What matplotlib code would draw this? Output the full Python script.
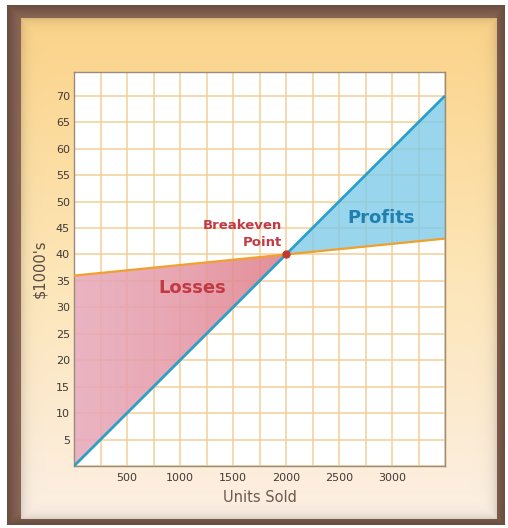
import numpy as np
import matplotlib
matplotlib.use("Agg")
import matplotlib.pyplot as plt
from matplotlib.colors import to_rgb, LinearSegmentedColormap
from matplotlib.patches import Polygon

# Break-even data ($1000's against units sold)
units = [0, 2000, 3500]
revenue = [0, 40, 70]
total_cost = [36, 40, 43]
breakeven_units = 2000
breakeven_value = 40

x_ticks = [500, 1000, 1500, 2000, 2500, 3000]
y_ticks = [5, 10, 15, 20, 25, 30, 35, 40, 45, 50, 55, 60, 65, 70]

W, H = 508, 528
fig = plt.figure(figsize=(W / 100, H / 100), dpi=100)

# ---- framed, shaded backdrop ----
img = np.ones((H, W, 3))
yy, xx = np.mgrid[0:H, 0:W]

# brown frame
fx0, fy0, fx1, fy1 = 7, 5, 505, 525
frame = (xx >= fx0) & (xx < fx1) & (yy >= fy0) & (yy < fy1)
brown = np.array(to_rgb("#7c5c4c"))
d_out = np.minimum.reduce([xx - fx0, fx1 - 1 - xx, yy - fy0, fy1 - 1 - yy]).astype(float)
shade = 0.85 + 0.25 * np.clip(d_out / 12, 0, 1)
img[frame] = np.clip(brown[None, :] * shade[frame][:, None], 0, 1)

# inner panel with vertical peach-to-cream gradient
px0, py0, px1, py1 = 21, 18, 497, 519
panel = (xx >= px0) & (xx < px1) & (yy >= py0) & (yy < py1)
top = np.array(to_rgb("#fbd389"))
mid = np.array(to_rgb("#fde5b6"))
bot = np.array(to_rgb("#fcefe4"))
t = (yy - py0) / (py1 - py0)
t = np.clip(t, 0, 1)[..., None]
grad = np.where(t < 0.5, top + (mid - top) * (t / 0.5), mid + (bot - mid) * ((t - 0.5) / 0.5))
d_in = np.minimum.reduce([xx - px0, px1 - 1 - xx, yy - py0, py1 - 1 - yy]).astype(float)
edge = 1 - 0.12 * np.exp(-d_in / 5.0)
img[panel] = (grad * edge[..., None])[panel]

bg = fig.add_axes([0, 0, 1, 1])
bg.imshow(img, aspect="auto", interpolation="bilinear")
bg.axis("off")

# ---- chart ----
ax = fig.add_axes([74 / W, 62 / H, 371 / W, 394 / H])
ax.set_facecolor("white")
ax.set_xlim(0, 3500)
ax.set_ylim(0, 74.5)

grid_color = "#f1d096"
ax.set_xticks(np.arange(0, 3501, 250))
ax.set_xticklabels([str(v) if v in x_ticks else "" for v in np.arange(0, 3501, 250)])
ax.set_yticks(np.arange(0, 71, 5))
ax.set_yticklabels([str(v) if v in y_ticks else "" for v in np.arange(0, 71, 5)])
ax.grid(True, color=grid_color, linewidth=1.1, zorder=0)
ax.set_axisbelow(True)
ax.tick_params(length=0, labelsize=8, labelcolor="#3f3936")
ax.tick_params(axis="x", pad=5)
ax.tick_params(axis="y", pad=3)
for s in ax.spines.values():
    s.set_color("#9b8b7b")
    s.set_linewidth(1.0)

ux = np.array(units, dtype=float)
rv = np.array(revenue, dtype=float)
tc = np.array(total_cost, dtype=float)

# Loss region: shaded from pink (left) to warmer red near break-even
loss_cmap = LinearSegmentedColormap.from_list("loss", ["#e9aabb", "#e59aa8", "#e0808a"])
loss_img = ax.imshow(np.linspace(0, 1, 256)[None, :], cmap=loss_cmap, aspect="auto",
                     extent=[0, breakeven_units, 0, 74.5], alpha=0.88, zorder=1,
                     interpolation="bilinear")
loss_poly = Polygon([[ux[0], rv[0]], [ux[1], rv[1]], [ux[0], tc[0]]], closed=True,
                    transform=ax.transData, facecolor="none", edgecolor="none")
ax.add_patch(loss_poly)
loss_img.set_clip_path(loss_poly)

ax.fill_between(ux, rv, tc, where=ux >= breakeven_units, interpolate=True,
                color="#7ccbea", alpha=0.78, linewidth=0, zorder=1)

ax.plot(ux, tc, color="#f0a02c", linewidth=1.6, zorder=3, solid_capstyle="butt")
ax.plot(ux, rv, color="#2aa0c8", linewidth=2.0, zorder=4, solid_capstyle="butt")
ax.plot([breakeven_units], [breakeven_value], "o", color="#c0392f",
        markersize=5, zorder=5)

ax.text(1958, 45.5, "Breakeven", color="#c23a44", fontsize=9.5,
        fontweight="bold", ha="right", va="center", zorder=6)
ax.text(1958, 42.3, "Point", color="#c23a44", fontsize=9.5,
        fontweight="bold", ha="right", va="center", zorder=6)
ax.text(2894, 46.8, "Profits", color="#1f7fae", fontsize=13,
        fontweight="bold", ha="center", va="center", zorder=6)
ax.text(1116, 33.6, "Losses", color="#c23a44", fontsize=13,
        fontweight="bold", ha="center", va="center", zorder=6)

ax.set_xlim(0, 3500)
ax.set_ylim(0, 74.5)

ax.set_xlabel("Units Sold", fontsize=10.5, color="#6a5a50")
ax.xaxis.set_label_coords(0.5, -31 / 394)
ax.xaxis.label.set_va("center")
ax.set_ylabel("$1000's", fontsize=10.5, color="#5a4a44")
ax.yaxis.set_label_coords(-34 / 371, 0.5)
ax.yaxis.label.set_va("center")

fig.savefig("out.png", dpi=100)
